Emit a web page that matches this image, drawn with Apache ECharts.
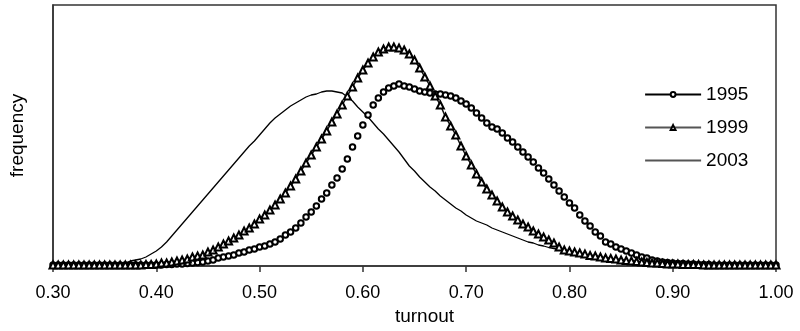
<!DOCTYPE html>
<html>
<head>
<meta charset="utf-8">
<script src="https://cdn.jsdelivr.net/npm/echarts@6/dist/echarts.min.js"></script>
<style>
html,body{margin:0;padding:0;background:#fff;}
#chart{width:800px;height:331px;}
</style>
</head>
<body>
<div id="chart"></div>
<script>
// turnout grid (x values)
const turnout = [
0.300,0.305,0.310,0.315,0.320,0.325,0.330,0.335,0.340,0.345,
0.350,0.355,0.360,0.365,0.370,0.375,0.380,0.385,0.390,0.395,
0.400,0.405,0.410,0.415,0.420,0.425,0.430,0.435,0.440,0.445,
0.450,0.455,0.460,0.465,0.470,0.475,0.480,0.485,0.490,0.495,
0.500,0.505,0.510,0.515,0.520,0.525,0.530,0.535,0.540,0.545,
0.550,0.555,0.560,0.565,0.570,0.575,0.580,0.585,0.590,0.595,
0.600,0.605,0.610,0.615,0.620,0.625,0.630,0.635,0.640,0.645,
0.650,0.655,0.660,0.665,0.670,0.675,0.680,0.685,0.690,0.695,
0.700,0.705,0.710,0.715,0.720,0.725,0.730,0.735,0.740,0.745,
0.750,0.755,0.760,0.765,0.770,0.775,0.780,0.785,0.790,0.795,
0.800,0.805,0.810,0.815,0.820,0.825,0.830,0.835,0.840,0.845,
0.850,0.855,0.860,0.865,0.870,0.875,0.880,0.885,0.890,0.895,
0.900,0.905,0.910,0.915,0.920,0.925,0.930,0.935,0.940,0.945,
0.950,0.955,0.960,0.965,0.970,0.975,0.980,0.985,0.990,0.995,
1.000];

const freq1995 = [
1,1,1,1,1,1,1,1,1,1,
1,1,1,1,1,1,1,1,1,1,
1,1,1.5,1.5,2,2,2.5,3,3.5,4,
5,6,8,9,10,11,13,14,16,17,
19,20,22,24,27,31,34,38,43,49,
54,60,67,73,81,88,97,107,119,130,
141,151,161,168,174,178,180,182,180,179,
177,175,174,173,172,172,171,170,168,165,
162,158,153,148,143,139,137,133,128,124,
119,114,109,104,98,93,87,81,75,69,
63,58,51,45,40,34,30,24,22,19,
17,15,13,11,9,8,6,5,4,3.5,
3,2.5,2.5,2,2,1.5,1.5,1.5,1,1,
1,1,1,1,1,1,1,1,1,1,
1];

const freq1999 = [
1,1,1,1,1,1,1,1,1,1,
1,1,1,1,1,1,1,1,1.5,1.5,
2,3,3,4,5,6,7,9,10,11,
14,16,19,22,25,28,31,35,38,42,
47,51,56,61,67,73,80,87,95,103,
111,119,127,135,144,152,161,170,179,188,
196,203,209,214,217,219,219,218,216,212,
206,198,189,180,170,161,149,140,131,120,
110,101,92,84,77,71,65,59,54,50,
46,42,39,35,32,29,26,23,19,16,
15,14,13,12,10.5,10,9,8,7.5,7,
6,5.5,5,4.5,4,3.5,3,3,2.5,2,
2,2,1.5,1.5,1.5,1.5,1,1,1,1,
1,1,1,1,1,1,1,1,1,1,
1];

const freq2003 = [
1,1,1,1,1,1,1,1,1,1,
1,1,1.5,2,3,5,6,7,9,12,
15,19,24,30,36,42,48,54,60,66,
72,78,84,90,96,102,108,114,120,125,
131,137,143,148,152,156,160,163,166,169,
171,172,174,175,175,174,173,169,165,159,
154,149,143,137,132,126,120,114,107,100,
95,89,84,79,75,70,66,62,58,55,
51,48,45,43,41,38,36,34,32,30,
28,26,24,23,21,20,18.5,17.5,16.5,15.5,
14,13,12,11.5,11,10,9,8,7.5,7,
6,5.5,5,4.5,4,3.5,3,3,2.5,2.5,
2,2,2,1.5,1.5,1.5,1.5,1,1,1,
1,1,1,1,1,1,1,1,1,1,
1];

const seriesNames = ['1995','1999','2003'];
const xTicks = [0.3,0.4,0.5,0.6,0.7,0.8,0.9,1.0];

const FONT = 'Arial, "Liberation Sans", sans-serif';
const pairs = arr => turnout.map((x, i) => [x, arr[i]]);

const chart = echarts.init(document.getElementById('chart'), null, {renderer: 'canvas'});
chart.setOption({
  animation: false,
  backgroundColor: '#fff',
  grid: {left: 46, right: 24, top: 5, bottom: 65, show: true, borderColor: '#333', borderWidth: 1.5, backgroundColor: 'transparent'},
  xAxis: {
    type: 'value', min: xTicks[0], max: xTicks[xTicks.length-1], interval: 0.1,
    name: 'turnout', nameLocation: 'middle', nameGap: 38,
    nameTextStyle: {fontFamily: FONT, fontSize: 19, color: '#000', padding: [0,0,0,20]},
    axisLine: {show: true, lineStyle: {color: '#333', width: 1.5}},
    axisTick: {show: true, inside: false, length: 6, lineStyle: {color: '#333', width: 1.5}},
    axisLabel: {fontFamily: FONT, fontSize: 18, color: '#000', margin: 18, formatter: v => v.toFixed(2)},
    splitLine: {show: false}
  },
  yAxis: {
    type: 'value', min: 0, max: 261,
    name: 'frequency', nameLocation: 'middle', nameGap: 26,
    nameTextStyle: {fontFamily: FONT, fontSize: 19, color: '#000'},
    axisLine: {show: true, lineStyle: {color: '#333', width: 1.5}},
    axisTick: {show: false}, axisLabel: {show: false}, splitLine: {show: false}
  },
  legend: {
    orient: 'vertical', left: 639, top: 80, itemWidth: 56, itemHeight: 6, itemGap: 14,
    textStyle: {fontFamily: FONT, fontSize: 19, color: '#000'},
    data: [
      {name: seriesNames[0], lineStyle: {color: '#000', width: 2.2, opacity: 1}, itemStyle: {color: '#000', borderColor: '#000', borderWidth: 1, opacity: 1}},
      {name: seriesNames[1], lineStyle: {color: '#555', width: 2, opacity: 1}, itemStyle: {color: '#000', borderColor: '#000', borderWidth: 1, opacity: 1}},
      {name: seriesNames[2], lineStyle: {color: '#555', width: 2, opacity: 1}, itemStyle: {opacity: 0}}
    ]
  },
  series: [
    {name: seriesNames[0], type: 'line', data: pairs(freq1995), clip: false,
     symbol: 'emptyCircle', symbolSize: 5.5, showAllSymbol: true,
     itemStyle: {color: '#000', borderColor: '#000', borderWidth: 1.2},
     lineStyle: {width: 0, opacity: 0}, z: 3},
    {name: seriesNames[1], type: 'line', data: pairs(freq1999), clip: false,
     symbol: 'emptyTriangle', symbolSize: 7, showAllSymbol: true,
     itemStyle: {color: '#000', borderColor: '#000', borderWidth: 1},
     lineStyle: {color: '#111', width: 1.5}, z: 4},
    {name: seriesNames[2], type: 'line', data: pairs(freq2003), clip: false,
     symbol: 'none', showSymbol: false,
     itemStyle: {color: '#000'},
     lineStyle: {color: '#000', width: 1.3}, z: 2}
  ]
});
</script>
</body>
</html>
